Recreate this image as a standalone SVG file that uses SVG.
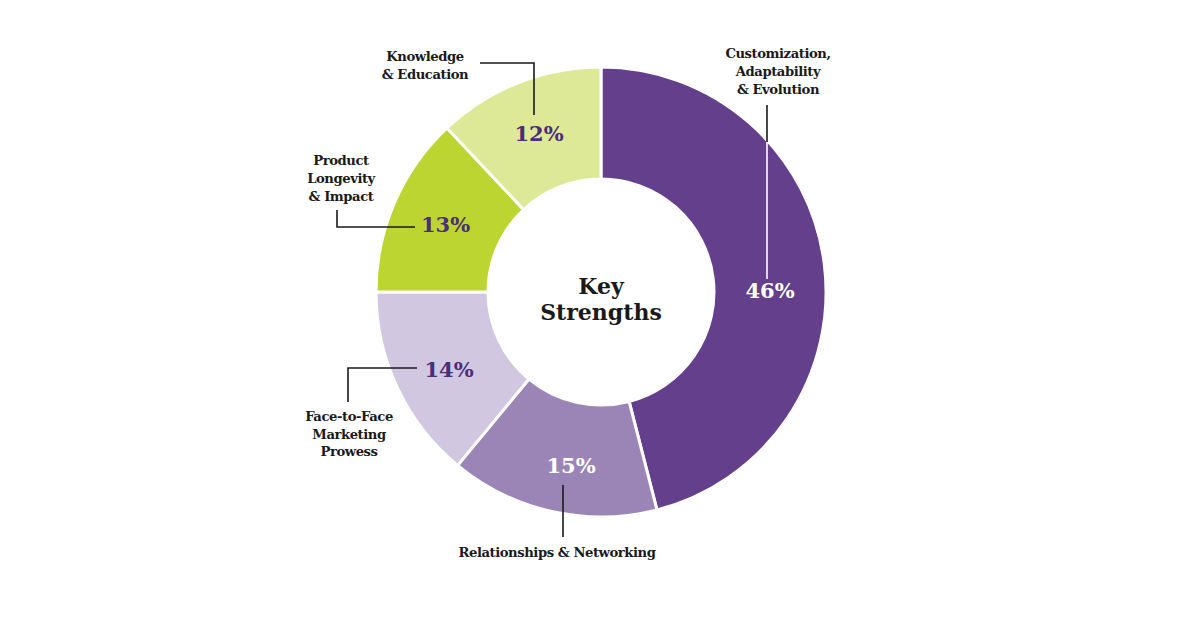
<svg xmlns="http://www.w3.org/2000/svg" width="1200" height="618" viewBox="0 0 1200 618">
<style>
.seg{stroke:#fff;stroke-width:3;stroke-linejoin:miter}
.lbl{font-family:"DejaVu Serif","Liberation Serif",serif;font-weight:bold;font-size:13.2px;letter-spacing:-0.45px;fill:#1a1a1a;text-anchor:middle}
.pct{font-family:"DejaVu Serif","Liberation Serif",serif;font-weight:bold;font-size:21px;text-anchor:middle}
.dk{fill:#4b2d78}
.wt{fill:#ffffff}
.title{font-family:"DejaVu Serif","Liberation Serif",serif;font-weight:bold;font-size:22px;fill:#1a1a1a;text-anchor:middle}
.ld{fill:none;stroke:#1a1a1a;stroke-width:1.6}
.ldw{fill:none;stroke:#ffffff;stroke-width:1.6}
</style>
<rect width="1200" height="618" fill="#ffffff"/>
<g id="seg-customization">
<path class="seg" fill="#643f8b" d="M601,67 A225,225 0 0 1 656.96,509.94 L629.10,401.45 A113,113 0 0 0 601,179 Z"/>
</g>
<g id="seg-relationships">
<path class="seg" fill="#9b85b7" d="M656.96,509.94 A225,225 0 0 1 457.58,465.36 L528.97,379.07 A113,113 0 0 0 629.10,401.45 Z"/>
</g>
<g id="seg-facetoface">
<path class="seg" fill="#d1c7e1" d="M457.58,465.36 A225,225 0 0 1 376,292 L488,292 A113,113 0 0 0 528.97,379.07 Z"/>
</g>
<g id="seg-product">
<path class="seg" fill="#bdd531" d="M376,292 A225,225 0 0 1 446.99,127.97 L523.65,209.62 A113,113 0 0 0 488,292 Z"/>
</g>
<g id="seg-knowledge">
<path class="seg" fill="#dde996" d="M446.99,127.97 A225,225 0 0 1 601,67 L601,179 A113,113 0 0 0 523.65,209.62 Z"/>
</g>
<g id="connectors">
<path class="ld" d="M480,63 H534 V115"/>
<path class="ld" d="M337,210 V227 H415"/>
<path class="ld" d="M417,368 H348 V402"/>
<path class="ld" d="M563,485 V537"/>
<path class="ld" d="M767,105 V142"/>
<path class="ldw" d="M767,142 V279"/>
</g>
<g id="center">
<text class="title" x="601" y="294">Key</text>
<text class="title" x="601" y="320">Strengths</text>
</g>
<g id="node-customization">
<text class="lbl" x="778" y="58">Customization,</text>
<text class="lbl" x="778" y="76">Adaptability</text>
<text class="lbl" x="778" y="94">&amp; Evolution</text>
<text class="pct wt" x="770" y="298">46%</text>
</g>
<g id="node-knowledge">
<text class="lbl" x="425" y="61">Knowledge</text>
<text class="lbl" x="425" y="78.5">&amp; Education</text>
<text class="pct dk" x="539" y="141">12%</text>
</g>
<g id="node-product">
<text class="lbl" x="341" y="165">Product</text>
<text class="lbl" x="341" y="183">Longevity</text>
<text class="lbl" x="341" y="201">&amp; Impact</text>
<text class="pct dk" x="445.5" y="232">13%</text>
</g>
<g id="node-facetoface">
<text class="lbl" x="349" y="421">Face-to-Face</text>
<text class="lbl" x="349" y="438.5">Marketing</text>
<text class="lbl" x="349" y="456">Prowess</text>
<text class="pct dk" x="449" y="377">14%</text>
</g>
<g id="node-relationships">
<text class="lbl" x="557" y="557">Relationships &amp; Networking</text>
<text class="pct wt" x="571" y="473">15%</text>
</g>
</svg>
